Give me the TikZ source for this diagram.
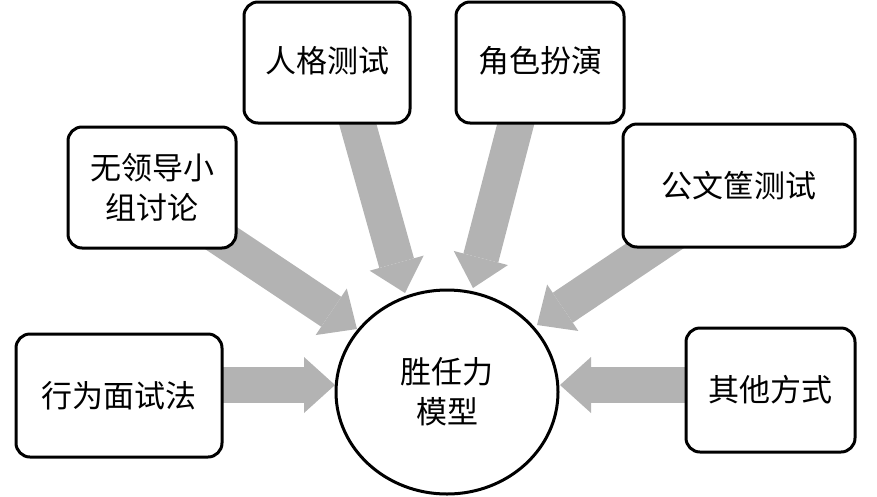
\documentclass[tikz,border=0pt]{standalone}
\usepackage{fontspec}
\setmainfont{Noto Sans CJK SC}
\usetikzlibrary{arrows.meta,backgrounds,shapes.geometric}
\begin{document}
\begin{tikzpicture}[x=1pt,y=-1pt,
  box/.style={draw=black,line width=3pt,rounded corners=14pt,fill=white,
    font=\fontsize{31}{40}\selectfont,align=center,inner sep=0pt},
  fat/.style={draw=arrowgray,line width=36pt,
    -{Triangle[length=31pt,width=56pt,line width=0pt]}}]
\definecolor{arrowgray}{HTML}{B3B3B3}
\useasboundingbox (0,0) rectangle (877,496);
\node[box,minimum width=166pt,minimum height=121pt,text depth=6pt] (b1) at (327,62.5) {人格测试};
\node[box,minimum width=168pt,minimum height=121pt,text depth=6pt] (b2) at (540,62.5) {角色扮演};
\node[box,minimum width=168pt,minimum height=121pt] (b3) at (152,187.5) {无领导小\\组讨论};
\node[box,minimum width=232pt,minimum height=123pt] (b4) at (739,185.5) {公文筐测试};
\node[box,minimum width=206pt,minimum height=123pt] (b5) at (119,395.5) {行为面试法};
\node[box,minimum width=169pt,minimum height=124pt] (b6) at (770.5,390) {其他方式};
\node[draw=black,line width=3pt,ellipse,minimum width=222pt,minimum height=204pt,
  font=\fontsize{31}{40}\selectfont,align=center,inner sep=0pt] (c) at (447,392) {胜任力\\模型};
\coordinate (s1) at (351,100); \coordinate (t1) at (405,293);
\coordinate (s2) at (522,100); \coordinate (t2) at (473,288);
\coordinate (s3) at (200,224); \coordinate (t3) at (357,329);
\coordinate (s4) at (680,229); \coordinate (t4) at (537,325);
\coordinate (s5) at (200,385); \coordinate (t5) at (335,385);
\coordinate (s6) at (700,385); \coordinate (t6) at (560,385);
\begin{pgfonlayer}{background}
\draw[fat] (s1) -- (t1);
\draw[fat] (s2) -- (t2);
\draw[fat] (s3) -- (t3);
\draw[fat] (s4) -- (t4);
\draw[fat] (s5) -- (t5);
\draw[fat] (s6) -- (t6);
\end{pgfonlayer}
\end{tikzpicture}
\end{document}
